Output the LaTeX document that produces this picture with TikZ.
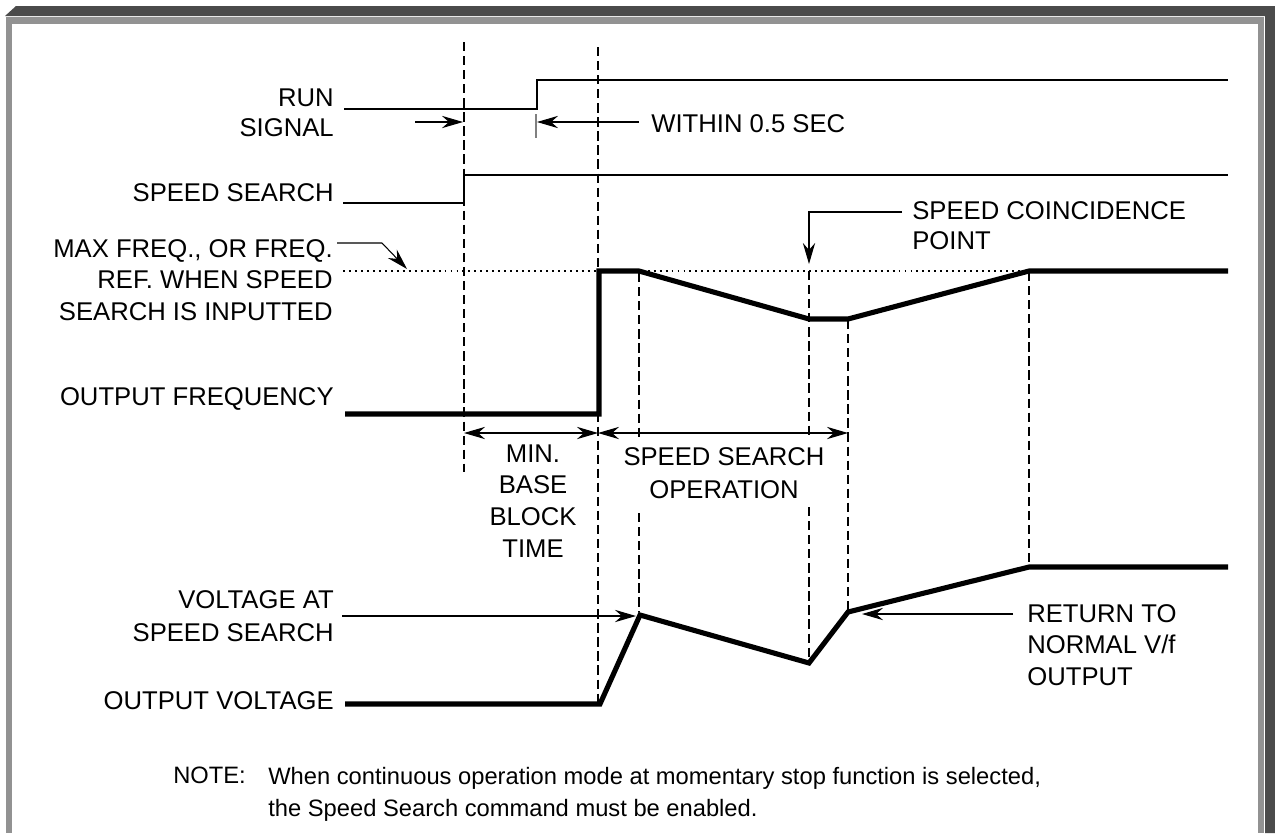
\documentclass[tikz,border=0pt]{standalone}
\usepackage{fontspec}
\setmainfont{Liberation Sans}
\usetikzlibrary{arrows.meta, positioning, calc}
\definecolor{frameDark}{HTML}{4B4B4B}
\definecolor{frameGrey}{HTML}{929292}

\begin{document}
\begin{tikzpicture}[
    x=0.02cm, y=-0.02cm,
    >={Stealth[length=12pt, width=7pt, inset=4pt]},
    lbl/.style={inner sep=0pt, align=right, anchor=east,
                font=\fontsize{14.6}{17}\selectfont},
    txt/.style={inner sep=0pt, align=center,
                font=\fontsize{14.6}{18.1}\selectfont},
    note/.style={inner sep=0pt, align=left, anchor=north west,
                 font=\fontsize{13.5}{18}\selectfont},
    sig/.style={line width=1.4pt},
    wave/.style={line width=2.9pt},
    guide/.style={line width=1.3pt, dash pattern=on 5.3pt off 2.7pt},
    lead/.style={line width=0.6pt, ->},
    dim/.style={line width=0.6pt, <->}
  ]
  \useasboundingbox (0,0) rectangle (1275,833);

  % frame
  \fill[frameDark] (5,16) -- (16,6) -- (1275,6) -- (1275,833)
    -- (1265,833) -- (1265,16) -- cycle;
  \fill[frameGrey] (6,17) rectangle (1264,833);
  \fill[white] (12,24) rectangle (1258,833);

  % time markers
  \draw[guide] (464,42) -- (464,472);
  \draw[guide] (598,47) -- (598,703);
  \draw[guide] (639,273) -- (639,437) (639,513) -- (639,612);
  \draw[guide] (809,271) -- (809,437) (809,507) -- (809,662);
  \draw[guide] (848,320) -- (848,613);
  \draw[guide] (1029,272) -- (1029,568);

  % signal names
  \node[lbl] (run) at (334,113) {RUN\\SIGNAL};
  \node[lbl] (ssin) at (334,193) {SPEED SEARCH};
  \node[lbl, font=\fontsize{14.6}{17.9}\selectfont] (maxf) at (333,280)
    {MAX FREQ., OR FREQ.\\REF. WHEN SPEED\\SEARCH IS INPUTTED};
  \node[lbl] (ofreq) at (334,399) {OUTPUT FREQUENCY};
  \node[lbl, font=\fontsize{14.6}{18.5}\selectfont] (vss) at (334,616)
    {VOLTAGE AT\\SPEED SEARCH};
  \node[lbl] (ovolt) at (334,701) {OUTPUT VOLTAGE};

  % waveforms
  \draw[sig] (344,109) -- (537,109) -- (537,80) -- (1228,80);
  \draw[sig] (343,203) -- (464,203) -- (464,175) -- (1228,175);
  \draw[line width=1.1pt, dash pattern=on 1.1pt off 2.3pt] (343,271) -- (1028,271);
  \draw[wave] (345,414) -- (599,414) -- (599,271) -- (639,271)
    -- (809,319) coordinate (fmin) -- (848,319) -- (1029,271) -- (1228,271);
  \draw[wave] (345,704) -- (600,704) -- (640,615) coordinate (vpk)
    -- (809,663) -- (848,612) coordinate (vret) -- (1029,567) -- (1228,567);

  % notes on the chart
  \node[inner sep=0pt, anchor=west, font=\fontsize{14.6}{17}\selectfont]
    (within) at (651,124) {WITHIN 0.5 SEC};
  \draw[lead] ($(within.west)+(-12,-2)$) -- (537,122);
  \draw[line width=0.6pt, gray] (536,114) -- (536,138);
  \coordinate (pre) at (415,122);
  \draw[lead] (pre) -- (463,122);

  \coordinate (maxtail) at (337,243);
  \draw[lead] (maxtail) -- (382,243) -- (407,269);

  \node[lbl, anchor=west, align=left] (coin) at (912,226)
    {SPEED COINCIDENCE\\POINT};
  \coordinate (cointail) at (902,212);
  \draw[lead] (cointail) -- (809,212) -- (809,264);

  \draw[dim] (464,433) -- (598,433);
  \draw[dim] (598,433) -- (848,433);
  \node[txt] (mbbt) at (533,501) {MIN.\\BASE\\BLOCK\\TIME};
  \node[txt, font=\fontsize{14.6}{19}\selectfont] (sso) at (724,473)
    {SPEED SEARCH\\OPERATION};

  \coordinate (vsstail) at (342,616);
  \draw[lead] (vsstail) -- (636,616);

  \node[lbl, anchor=west, align=left, font=\fontsize{14.6}{18}\selectfont]
    (ret) at (1027,645) {RETURN TO\\NORMAL V/f\\OUTPUT};
  \coordinate (rettail) at (1013,614);
  \draw[lead] (rettail) -- (862,614);

  % footnote
  \node[note] (notehead) at (173,767) {NOTE:};
  \node[note] (notebody) at (268,767)
    {When continuous operation mode at momentary stop function is selected,\\
     the Speed Search command must be enabled.};
\end{tikzpicture}
\end{document}
